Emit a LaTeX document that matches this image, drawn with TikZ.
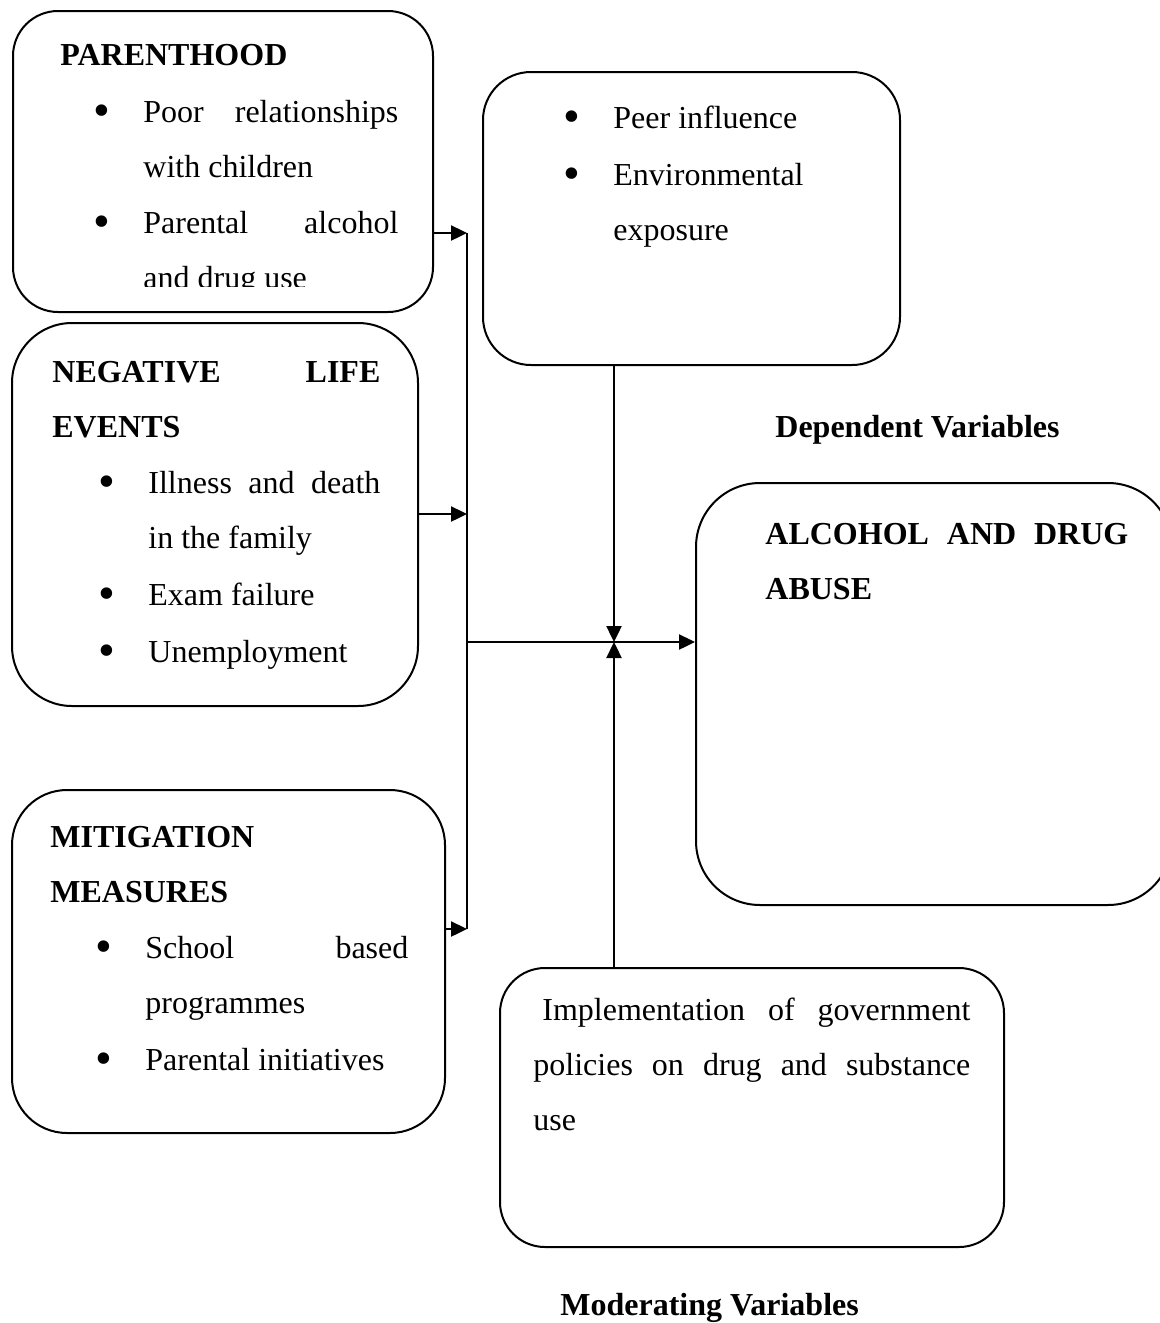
\documentclass[tikz,border=0pt]{standalone}
\usepackage{fontspec}
\setmainfont{Liberation Serif}
\usepackage{graphicx}
\usetikzlibrary{arrows.meta,fit}
\tolerance=10000
\hbadness=10000
\hyphenpenalty=10000

\newcommand{\bul}{\llap{\raisebox{-2.2pt}{\scalebox{1.5}{\textbullet}}\hspace{16.5pt}}}

\begin{document}
\begin{tikzpicture}[x=0.5pt, y=-0.5pt,
    box/.style={draw, line width=1pt, inner sep=0pt},
    plain/.style={inner sep=0pt, anchor=base west, font=\fontsize{16pt}{27.5pt}\selectfont},
    txt/.style={plain, align=justify},
    hd/.style={txt, font=\fontsize{16pt}{27.5pt}\selectfont\bfseries},
    wire/.style={line width=1.2pt},
    conn/.style={wire, -{Triangle[length=8pt, width=7.5pt]}}]
    \clip (0,0) rectangle (1160,1323);

    % Boxes
    \node[box, rounded corners=22.5pt, fit={(13,11) (433,312)}] (parent) {};
    \node[box, rounded corners=30pt, fit={(12,323) (418,706)}] (neg) {};
    \node[box, rounded corners=27.5pt, fit={(12,790) (445,1133)}] (mit) {};
    \node[box, rounded corners=24pt, fit={(483,72) (900,365)}] (peer) {};
    \node[box, rounded corners=32pt, fit={(696,483) (1172,905)}] (alc) {};
    \node[box, rounded corners=22.5pt, fit={(500,968) (1004,1247)}] (impl) {};

    % Parenthood
    \node[hd] (parenthd) at (60,65) {PARENTHOOD};
    \node[txt, text width=127.5pt] (poorrel) at (143,122) {\bul Poor relationships\linebreak with children};
    \begin{scope}
        \clip (0,0) rectangle (1160,286);
        \node[txt, text width=127.5pt] (paruse) at (143,233) {\bul Parental alcohol\linebreak and drug use};
    \end{scope}

    % Negative life events
    \node[hd, text width=164pt] (neghd) at (52,382) {NEGATIVE LIFE\linebreak EVENTS};
    \node[txt, text width=116pt] (illness) at (148,493) {\bul Illness and death\linebreak in the family};
    \node[txt, text width=116pt] (exam) at (148,605) {\bul Exam failure};
    \node[txt, text width=116pt] (unemp) at (148,662) {\bul Unemployment};

    % Mitigation measures
    \node[hd, text width=179pt] (mithd) at (50,847) {MITIGATION\linebreak MEASURES};
    \node[txt, text width=131.5pt] (school) at (145,958) {\bul School based\linebreak programmes};
    \node[txt, text width=131.5pt] (parinit) at (145,1070) {\bul Parental initiatives};

    % Peer and environment
    \node[txt, text width=130pt] (peerinf) at (613,128) {\bul Peer influence};
    \node[txt, text width=130pt] (envexp) at (613,185) {\bul Environmental\linebreak exposure};

    % Outcome
    \node[hd, text width=181.5pt] (alchd) at (765,544) {ALCOHOL AND DRUG\linebreak ABUSE};
    \node[plain, font=\fontsize{16pt}{27.5pt}\selectfont\bfseries] (deplbl) at (775,437) {Dependent Variables};

    % Moderator
    \node[txt, text width=218.5pt] (policy) at (533,1020) {\hspace*{4.5pt}Implementation of government\linebreak policies on drug and substance\linebreak use};
    \node[plain, font=\fontsize{16pt}{27.5pt}\selectfont\bfseries] (modlbl) at (560,1315) {Moderating Variables};

    % Connectors
    \coordinate (jtop) at (467,233);
    \coordinate (jneg) at (467,514);
    \coordinate (jmid) at (467,642);
    \coordinate (jbot) at (467,929);
    \coordinate (meet) at (614,642);

    \draw[conn] (parent.east |- jtop) -- (jtop);
    \draw[wire] (jtop) -- (jbot);
    \draw[conn] (neg.east |- jneg) -- (jneg);
    \draw[conn] (mit.east |- jbot) -- (jbot);
    \draw[conn] (jmid) -- (alc.west |- jmid);
    \draw[conn] (peer.south -| meet) -- (meet);
    \draw[conn] (impl.north -| meet) -- (meet);
\end{tikzpicture}
\end{document}
